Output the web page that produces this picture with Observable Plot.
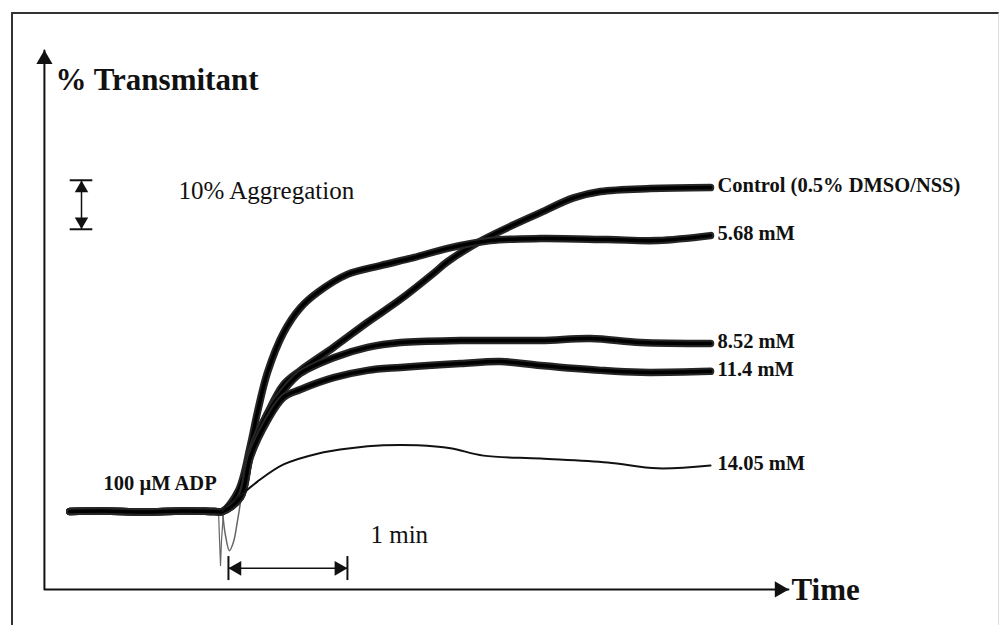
<!DOCTYPE html>
<html>
<head>
<meta charset="utf-8">
<script src="https://cdn.jsdelivr.net/npm/d3@7"></script>
<script src="https://cdn.jsdelivr.net/npm/@observablehq/plot@0.6"></script>
<style>
  html, body { margin: 0; padding: 0; background: #fff; }
  #wrap { position: relative; width: 1005px; height: 625px; overflow: hidden; background: #fff; }
  #border { position: absolute; left: 11px; top: 12px; width: 988px; height: 640px;
            border-left: 2px solid #333; border-top: 2px solid #333; border-right: 1px solid #ddd; box-sizing: border-box; }
  #chart { position: absolute; left: 0; top: 0; }
</style>
</head>
<body>
<div id="wrap"><div id="border"></div><div id="chart"></div></div>
<script>
// ---- Data: time (s, 0 = ADP addition) and % aggregation (0 = baseline) ----
const seriesNames = ["Control (0.5% DMSO/NSS)", "5.68 mM", "8.52 mM", "11.4 mM", "14.05 mM"];

// pre-ADP baseline readings (shared by all traces)
const baseline = [[-77,0],[-60,0.1],[-40,-0.1],[-20,0.1],[-4,0],[0,0]];

const control = [[9.1,3.3],[14.1,11.4],[22.7,20.0],[30.8,25.9],[39.3,28.8],[56.0,33.5],
  [73.1,38.6],[89.8,43.3],[106.4,48.6],[113.5,51.0],[131.6,55.5],[160.4,61.0],[177.0,64.0],
  [190.6,65.3],[215.8,65.9],[246.1,66.1]];
const mM568 = [[8.1,4.3],[14.1,13.5],[17.6,20.2],[22.7,28.4],[30.8,36.5],[39.3,41.6],
  [47.9,44.7],[63.0,48.4],[79.7,50.2],[96.3,51.8],[113.5,53.7],[135.1,55.3],[160.4,55.7],
  [194.2,55.5],[219.4,55.3],[246.1,56.3]];
const mM852 = [[9.1,2.9],[14.1,12.0],[22.7,20.0],[30.8,24.7],[39.3,28.2],[56.0,31.4],
  [73.1,33.5],[89.8,34.5],[120.0,34.9],[160.4,34.9],[185.6,35.3],[210.8,34.5],[246.1,34.3]];
const mM114 = [[9.1,2.9],[14.1,11.2],[22.7,18.6],[30.8,23.3],[39.3,24.9],[56.0,27.3],
  [73.1,28.8],[89.8,29.4],[120.0,30.2],[140.2,30.6],[160.4,29.8],[190.6,28.8],[210.8,28.4],[246.1,28.6]];
const mM1405 = [[2.0,1.2],[9.1,3.3],[17.6,6.1],[30.8,9.6],[47.9,11.8],[64.5,12.9],[81.2,13.5],
  [98.3,13.5],[115.0,12.9],[131.6,11.4],[160.4,10.8],[194.2,10.0],[219.4,8.8],[246.1,9.4]];
// injection artefacts (thin grey dips at ADP addition)
const dipA = [[0,0],[1.5,-4.9],[3.5,-8.0],[5.5,-6.3],[7.6,-1.8],[9.6,3.3]];
const dipB = [[-2.0,0],[-1.5,-5.9],[-1.0,-11.0],[-0.5,-5.9],[0.5,0]];

const thickSeries = [control, mM568, mM852, mM114];

// ---- annotation layout (data units) ----
const axisT = -89.8, axisTopV = 94.1, axisBottomV = -15.9, axisEndT = 285.4;
const scaleBarT = -71.1, scaleBarTop = 67.6, scaleBarBottom = 57.6, scaleBarHalf = 5.7;
const minStart = 3, minEnd = 63, minV = -11.6, minTickTop = -9.2, minTickBottom = -14.1;

const serif = "'Liberation Serif', 'Times New Roman', Times, serif";

const rows = (arr, name) => arr.map(([t, v]) => ({t, v, name}));
const labelRows = [control, mM568, mM852, mM114, mM1405].map((s, i) => ({t: s[s.length-1][0], v: s[s.length-1][1], name: seriesNames[i]}));

const texts = [
  {t: -84.2, v: 88.0, text: "% Transmitant", size: 31, weight: "bold"},
  {t: -22.2, v: 65.5, text: "10% Aggregation", size: 25, weight: "normal"},
  {t: -60.0, v: 5.7, text: "100 µM ADP", size: 20.5, weight: "bold"},
  {t: 74.6, v: -4.7, text: "1 min", size: 25, weight: "normal"},
  {t: 286.9, v: -16.1, text: "Time", size: 31, weight: "bold"}
];

const marks = [];
// axes
marks.push(Plot.line([[axisT, axisTopV],[axisT, axisBottomV],[axisEndT, axisBottomV]], {x: d=>d[0], y: d=>d[1], stroke: "#111", strokeWidth: 2}));
marks.push(Plot.dot([[axisT, axisTopV]], {x: d=>d[0], y: d=>d[1], symbol: "triangle", r: 6, fill: "#111", stroke: "none", dy: 9}));
marks.push(Plot.dot([[axisEndT, axisBottomV]], {x: d=>d[0], y: d=>d[1], symbol: "triangle", r: 6, fill: "#111", stroke: "none", rotate: 90, dx: -9}));
// 10% scale bar
marks.push(Plot.ruleY([scaleBarTop, scaleBarBottom], {x1: scaleBarT - scaleBarHalf, x2: scaleBarT + scaleBarHalf, stroke: "#111", strokeWidth: 2}));
marks.push(Plot.ruleX([scaleBarT], {y1: scaleBarBottom, y2: scaleBarTop, stroke: "#111", strokeWidth: 1.5}));
marks.push(Plot.dot([[scaleBarT, scaleBarTop]], {x: d=>d[0], y: d=>d[1], symbol: "triangle", r: 5, fill: "#111", stroke: "none", dy: 8}));
marks.push(Plot.dot([[scaleBarT, scaleBarBottom]], {x: d=>d[0], y: d=>d[1], symbol: "triangle", r: 5, fill: "#111", stroke: "none", rotate: 180, dy: -8}));
// 1 min bar
marks.push(Plot.ruleX([minStart, minEnd], {y1: minTickBottom, y2: minTickTop, stroke: "#111", strokeWidth: 2}));
marks.push(Plot.ruleY([minV], {x1: minStart, x2: minEnd, stroke: "#111", strokeWidth: 1.5}));
marks.push(Plot.dot([[minStart, minV]], {x: d=>d[0], y: d=>d[1], symbol: "triangle", r: 5.5, fill: "#111", stroke: "none", rotate: -90, dx: 8.5}));
marks.push(Plot.dot([[minEnd, minV]], {x: d=>d[0], y: d=>d[1], symbol: "triangle", r: 5.5, fill: "#111", stroke: "none", rotate: 90, dx: -8.5}));
// injection dips
marks.push(Plot.line(dipA, {x: d=>d[0], y: d=>d[1], stroke: "#666", strokeWidth: 1.5, curve: "catmull-rom"}));
marks.push(Plot.line(dipB, {x: d=>d[0], y: d=>d[1], stroke: "#666", strokeWidth: 1.2}));
// traces
thickSeries.forEach((s, i) => {
  const data = rows(baseline.concat(s), seriesNames[i]);
  marks.push(Plot.line(data, {x: "t", y: "v", stroke: "#262626", strokeWidth: 7.5, curve: "catmull-rom", strokeLinejoin: "round"}));
  marks.push(Plot.line(data, {x: "t", y: "v", stroke: "#000", strokeWidth: 3.5, curve: "catmull-rom"}));
});
marks.push(Plot.line(rows([[0,0]].concat(mM1405), seriesNames[4]), {x: "t", y: "v", stroke: "#111", strokeWidth: 2, curve: "catmull-rom"}));
// labels
marks.push(Plot.text(labelRows, {x: "t", y: "v", text: "name", textAnchor: "start", dx: 7, dy: -2, fontSize: 20.5, fontWeight: "bold", fill: "#111"}));
texts.forEach(d => {
  marks.push(Plot.text([d], {x: "t", y: "v", text: "text", textAnchor: "start", fontSize: d.size, fontWeight: d.weight, fill: "#111"}));
});

const chart = Plot.plot({
  width: 1005, height: 625, margin: 0,
  x: {domain: [-111.95, 394.85], axis: null},
  y: {domain: [-23.27, 104.29], axis: null},
  style: {background: "transparent", fontFamily: serif, overflow: "visible"},
  marks
});
document.getElementById("chart").appendChild(chart);
</script>
</body>
</html>
